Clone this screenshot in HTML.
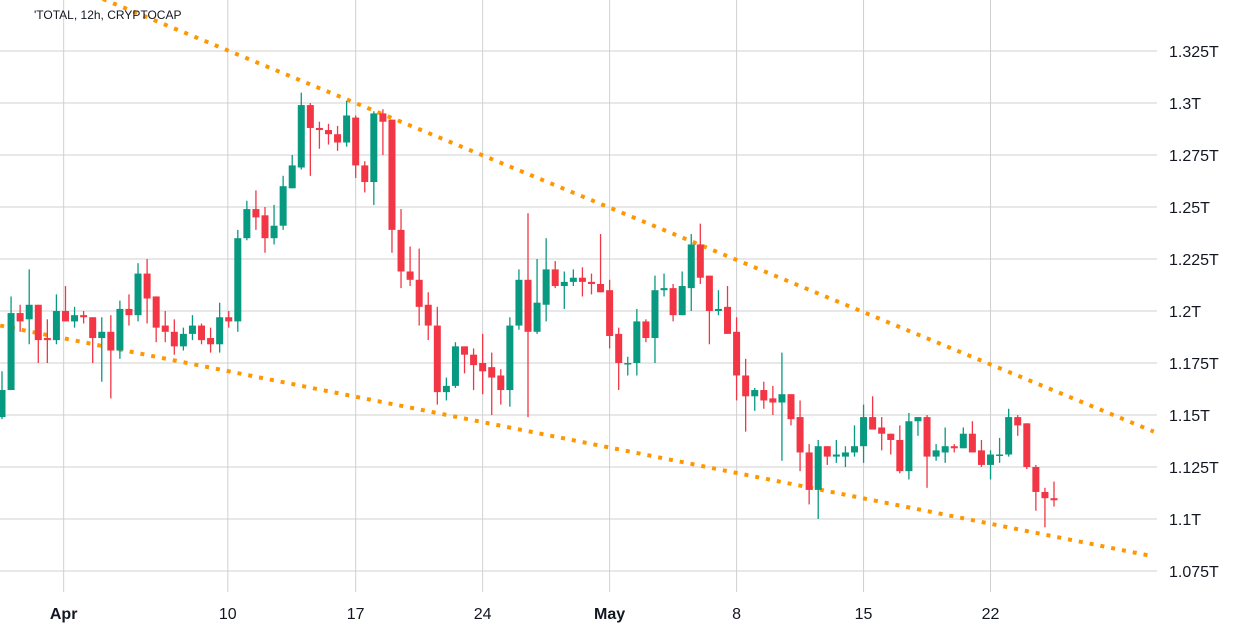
<!DOCTYPE html>
<html><head><meta charset="utf-8"><style>
html,body{margin:0;padding:0;background:#fff;}
svg{display:block;font-family:"Liberation Sans",sans-serif;}
</style></head><body>
<svg id="chart" width="1238" height="632" viewBox="0 0 1238 632" xmlns="http://www.w3.org/2000/svg">
<rect x="0" y="0" width="1238" height="632" fill="#fff"/>
<g id="grid"></g>
<g id="trend"></g>
<g id="candles"></g>
<g id="yaxis"></g>
<g id="xaxis"></g>
<text x="34" y="19" font-size="12" fill="#131722">'TOTAL, 12h, CRYPTOCAP</text>
</svg>
<script>
const opens=[1.149,1.162,1.199,1.196,1.203,1.187,1.186,1.200,1.195,1.198,1.197,1.187,1.190,1.181,1.201,1.198,1.218,1.207,1.193,1.190,1.183,1.189,1.193,1.187,1.184,1.197,1.195,1.235,1.249,1.246,
1.235,1.241,1.259,1.269,1.299,1.288,1.287,1.285,1.281,1.293,1.270,1.262,1.295,1.292,1.239,1.219,1.215,1.203,1.193,1.161,1.164,1.183,1.179,1.175,1.173,1.169,1.162,1.193,1.215,
1.190,1.203,1.220,1.212,1.214,1.216,1.214,1.213,1.210,1.189,1.175,1.175,1.195,1.187,1.210,1.211,1.198,1.211,1.232,1.217,1.200,1.202,1.190,1.169,1.159,1.162,1.158,1.156,1.160,
1.149,1.132,1.114,1.135,1.130,1.130,1.132,1.135,1.149,1.144,1.141,1.138,1.123,1.147,1.149,1.130,1.132,1.135,1.134,1.141,1.133,1.126,1.131,1.131,1.149,1.146,1.125,1.113,1.110];
const highs=[1.171,1.207,1.203,1.220,1.203,1.196,1.208,1.212,1.202,1.200,1.197,1.197,1.198,1.205,1.208,1.223,1.225,1.207,1.200,1.196,1.192,1.198,1.194,1.192,1.204,1.200,1.239,1.253,1.258,1.250,
1.251,1.265,1.275,1.305,1.300,1.291,1.290,1.289,1.301,1.294,1.272,1.296,1.297,1.292,1.249,1.231,1.230,1.209,1.202,1.168,1.185,1.183,1.182,1.189,1.180,1.172,1.197,1.220,1.247,
1.225,1.235,1.224,1.219,1.220,1.221,1.218,1.237,1.215,1.192,1.178,1.201,1.196,1.217,1.218,1.213,1.219,1.237,1.242,1.217,1.210,1.212,1.197,1.177,1.163,1.166,1.164,1.180,1.160,
1.157,1.136,1.138,1.135,1.138,1.135,1.145,1.155,1.159,1.149,1.141,1.145,1.151,1.149,1.150,1.136,1.144,1.136,1.144,1.147,1.138,1.133,1.139,1.153,1.150,1.146,1.126,1.115,1.118];
const lows=[1.148,1.162,1.190,1.184,1.175,1.175,1.184,1.195,1.192,1.194,1.175,1.166,1.158,1.177,1.193,1.195,1.194,1.185,1.185,1.179,1.181,1.186,1.184,1.180,1.180,1.192,1.190,1.234,1.239,1.228,
1.232,1.239,1.259,1.268,1.265,1.278,1.280,1.277,1.279,1.264,1.257,1.251,1.275,1.228,1.211,1.212,1.193,1.186,1.155,1.157,1.163,1.170,1.162,1.160,1.150,1.155,1.154,1.191,1.149,
1.189,1.195,1.211,1.201,1.212,1.207,1.208,1.209,1.182,1.162,1.169,1.169,1.185,1.175,1.207,1.195,1.198,1.200,1.213,1.184,1.198,1.189,1.157,1.142,1.152,1.153,1.150,1.128,1.145,
1.123,1.107,1.100,1.126,1.127,1.125,1.130,1.127,1.143,1.133,1.131,1.122,1.119,1.140,1.115,1.128,1.127,1.132,1.134,1.132,1.125,1.119,1.127,1.130,1.140,1.124,1.104,1.096,1.106];
const closes=[1.162,1.199,1.195,1.203,1.186,1.186,1.200,1.195,1.198,1.197,1.187,1.190,1.181,1.201,1.198,1.218,1.206,1.192,1.190,1.183,1.189,1.193,1.186,1.184,1.197,1.195,1.235,1.249,1.245,1.235,
1.241,1.260,1.270,1.299,1.288,1.287,1.285,1.281,1.294,1.270,1.262,1.295,1.291,1.239,1.219,1.215,1.202,1.193,1.161,1.164,1.183,1.179,1.174,1.171,1.168,1.162,1.193,1.215,1.190,
1.204,1.220,1.212,1.214,1.216,1.214,1.213,1.209,1.188,1.175,1.175,1.195,1.187,1.210,1.211,1.198,1.212,1.232,1.216,1.200,1.201,1.189,1.169,1.159,1.162,1.157,1.156,1.160,1.148,
1.132,1.114,1.135,1.130,1.131,1.132,1.135,1.149,1.143,1.141,1.138,1.123,1.147,1.149,1.130,1.133,1.135,1.134,1.141,1.132,1.126,1.131,1.131,1.149,1.145,1.125,1.113,1.110,1.109];
const yTicks=[1.325,1.3,1.275,1.25,1.225,1.2,1.175,1.15,1.125,1.1,1.075];
const yTickLabels=["1.325T","1.3T","1.275T","1.25T","1.225T","1.2T","1.175T","1.15T","1.125T","1.1T","1.075T"];
const xTickIdx=[6.8,24.9,39,53,67,81,95,109];
const xTickLabels=["Apr","10","17","24","May","8","15","22"];
const upperTrend=[[10,1.352],[127,1.142]];
const lowerTrend=[[-0.2,1.193],[127,1.082]];

const NS="http://www.w3.org/2000/svg";
const PLOT_R=1157;
function yS(v){return 103+(1.3-v)*2080;}
function xS(i){return 2+i*9.069;}
function mk(tag,attrs,parent){const e=document.createElementNS(NS,tag);for(const k in attrs)e.setAttribute(k,attrs[k]);parent.appendChild(e);return e;}
const grid=document.getElementById('grid'),cg=document.getElementById('candles'),ya=document.getElementById('yaxis'),xa=document.getElementById('xaxis'),tg=document.getElementById('trend');
yTicks.forEach((v,k)=>{
  const l=mk('line',{x1:0,x2:PLOT_R,y1:yS(v),y2:yS(v),stroke:'#d0d0d3','stroke-width':1},grid);
  
  
  const t=mk('text',{x:1169,y:yS(v)+6,'font-size':16,fill:'#131722'},ya);
  t.textContent=yTickLabels[k];
  
  
});
xTickIdx.forEach((v,k)=>{
  const x=xS(v);
  const l=mk('line',{x1:x,x2:x,y1:0,y2:592,stroke:'#d0d0d3','stroke-width':1},grid);
  
  
  const bold=(xTickLabels[k]==='Apr'||xTickLabels[k]==='May');
  const t=mk('text',{x:x,y:619,'font-size':16,fill:'#131722','text-anchor':'middle','font-weight':bold?'bold':'normal'},xa);
  t.textContent=xTickLabels[k];
  
  
});
[upperTrend,lowerTrend].forEach((tr,k)=>{
  const l=mk('line',{x1:xS(tr[0][0]),y1:yS(tr[0][1]),x2:xS(tr[1][0]),y2:yS(tr[1][1]),stroke:'#ff9800','stroke-width':4,'stroke-dasharray':'4 7'},tg);
  
  
});
opens.forEach((o,i)=>{
  const c=closes[i],up=c>=o,col=up?'#089981':'#f23645',x=xS(i);
  const w=mk('line',{x1:x,x2:x,y1:yS(highs[i]),y2:yS(lows[i]),stroke:col,'stroke-width':1.3},cg);
  
  
  const top=yS(Math.max(o,c)),h=Math.max(1.5,Math.abs(yS(o)-yS(c)));
  const b=mk('rect',{x:x-3.5,y:top,width:7,height:h,fill:col},cg);
  
  
});
</script>
</body></html>
